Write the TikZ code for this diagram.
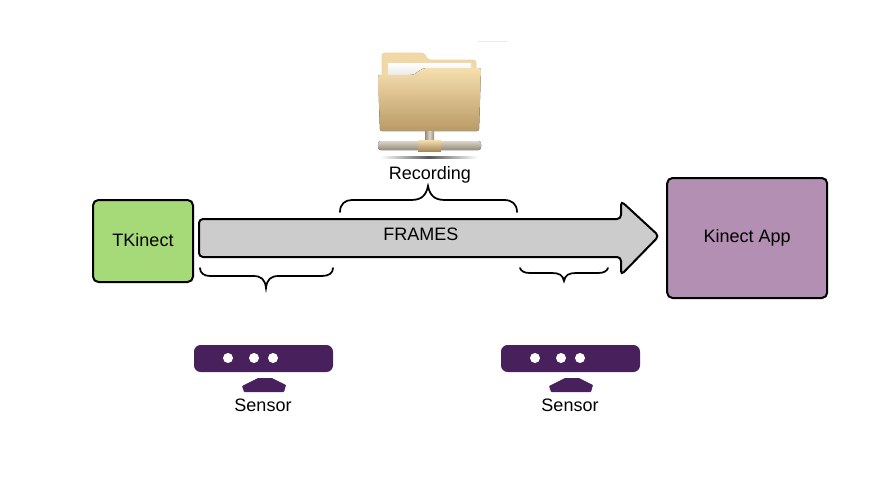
\documentclass[tikz,border=0pt]{standalone}
\usepackage{fontspec}
\setmainfont{Liberation Sans}
\usepackage{xcolor}
\usetikzlibrary{positioning}
\definecolor{appgreen}{HTML}{A6DA78}
\definecolor{apppurple}{HTML}{B28FB3}
\definecolor{framegray}{HTML}{CCCCCC}
\definecolor{sensorpurple}{HTML}{48215C}
\definecolor{foldertop}{HTML}{F6DFAE}
\definecolor{folderbot}{HTML}{B99A66}
\definecolor{barlight}{HTML}{DDD5CA}
\definecolor{bardark}{HTML}{948A7C}
\tikzset{
  appbox/.style={draw=black,line width=1.5pt,rounded corners=4pt,inner sep=0pt,font=\fontsize{13.5}{15}\selectfont},
  bracket/.style={draw=black,line width=1.3pt,line cap=round},
  label/.style={font=\fontsize{13.5}{15}\selectfont,inner sep=0pt},
  sensorbar/.style={fill=sensorpurple,rounded corners=5pt},
  sensordot/.style={fill=white},
}
\begin{document}
\begin{tikzpicture}[x=0.75pt,y=-0.75pt]
    \useasboundingbox (0,0) rectangle (869,496);
    % boxes
    \node[appbox,fill=appgreen,minimum width=75pt,minimum height=61.5pt] (tkinect) at (143,241) {\raisebox{2.2pt}{TKinect}};
    \node[appbox,fill=apppurple,minimum width=120pt,minimum height=90pt] (app) at (747.2,238) {\raisebox{2.8pt}{Kinect App}};
    % frames arrow
    \draw[black,line width=1.5pt,fill=framegray,rounded corners=3pt] (199,219) -- (621,219) -- (621,201) -- (659,236) -- (621,275) -- (621,257) -- (199,257) -- cycle;
    \node[label] (frames) at (421,234) {FRAMES};
    % braces
    \draw[bracket] (340,212) .. controls (340,204) and (345,200) .. (352,200) -- (411,200) .. controls (421,200) and (426,196) .. (428,186) .. controls (430,196) and (435,200) .. (445,200) -- (504,200) .. controls (512,200) and (517,204) .. (517,212);
    \draw[bracket] (200,268) .. controls (200,273) and (204,276) .. (210,276) -- (253,276) .. controls (261,276) and (265,279) .. (266,288) .. controls (267,279) and (271,276) .. (279,276) -- (322,276) .. controls (329,276) and (333,273) .. (333,268);
    \draw[bracket] (520,268) .. controls (521,271) and (524,273) .. (530,273) -- (552,273) .. controls (559,273) and (563,275) .. (564,281) .. controls (565,275) and (569,273) .. (576,273) -- (598,273) .. controls (604,273) and (607,271) .. (608,268);
    % sensors
    \foreach \sx/\sname in {0/left,307/right}{
      \begin{scope}[xshift=\sx*0.75pt]
        \fill[sensorbar] (194,345) rectangle (333,372);
        \fill[sensordot] (228,358) circle (5);
        \fill[sensordot] (254,358) circle (5);
        \fill[sensordot] (273,358) circle (5);
        \fill[sensorpurple,rounded corners=0.5pt] (242,386) -- (258,378) -- (272,378) -- (286,385) -- (284,392) -- (244,392) -- cycle;
        \node[label] (sensor\sname) at (263,405.5) {Sensor};
      \end{scope}
    }
    % folder
    \fill[black!8] (478,40.5) rectangle (507,41.5);
    \draw[foldertop!80!folderbot,fill=foldertop!90!folderbot,rounded corners=2pt] (382,90) -- (382,53) -- (424,53) -- (428,60) -- (476,60) -- (476,90) -- cycle;
    \fill[top color=white,bottom color=black!12] (388,63) rectangle (471,80);
    \fill[top color=foldertop,bottom color=folderbot,rounded corners=1.5pt] (378,75) -- (408,75) .. controls (418,75) and (418,68) .. (430,68) -- (481,68) -- (479,131) -- (380,131) -- cycle;
    \fill[left color=bardark,right color=bardark,middle color=barlight] (425,131) rectangle (434,142);
    \fill[top color=barlight,bottom color=bardark,rounded corners=2pt] (378,141) rectangle (481,150);
    \fill[top color=foldertop,bottom color=folderbot!90!black] (418,140) rectangle (441,151);
    \shade[left color=white,right color=white,middle color=black!65] (380,156.5) rectangle (478,158);
    \node[label] (recording) at (430,174.5) {Recording};
\end{tikzpicture}
\end{document}
